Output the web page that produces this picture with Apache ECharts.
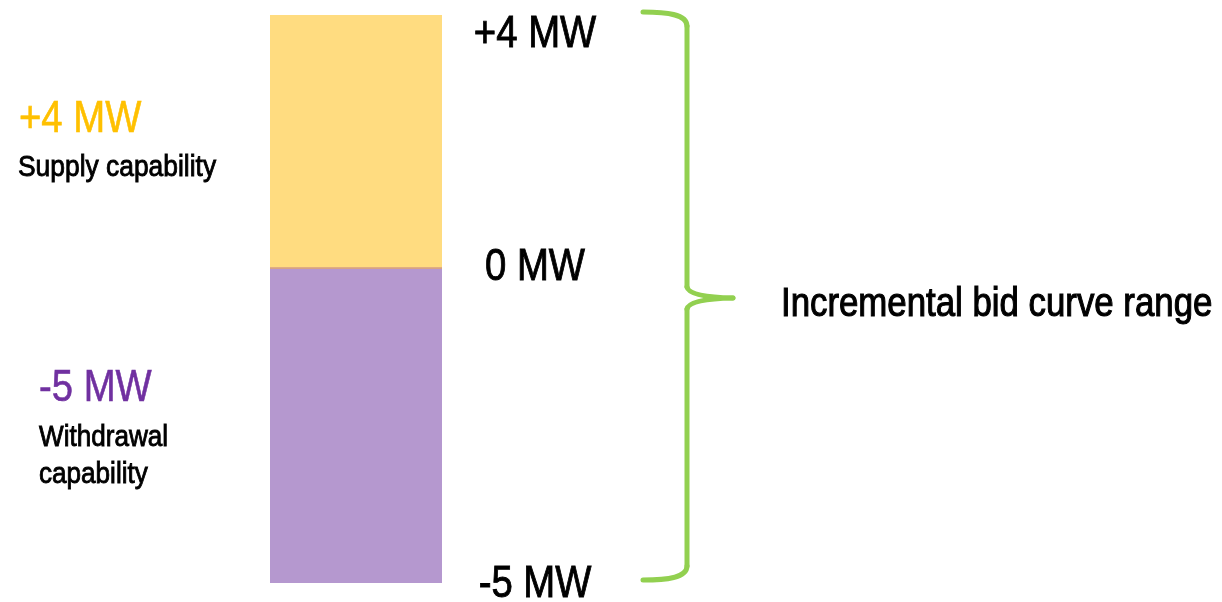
<!DOCTYPE html>
<html>
<head>
<meta charset="utf-8">
<script src="https://cdn.jsdelivr.net/npm/echarts@6/dist/echarts.min.js"></script>
<style>
  html, body { margin: 0; padding: 0; background: #ffffff; }
  #chart { width: 1222px; height: 602px; }
</style>
</head>
<body>
<div id="chart"></div>
<script>
// Capability bar: supply above zero, withdrawal below it (MW)
const categories = ['Capability'];
const supply = [4];
const withdrawal = [-5];
const tickValues = [4, 0, -5];

const FONT = '"Liberation Sans", Arial, sans-serif';
const fmtMW = v => (v > 0 ? '+' : '') + v + ' MW';

const chart = echarts.init(document.getElementById('chart'), null, { renderer: 'canvas' });

chart.setOption({
  animation: false,
  backgroundColor: '#ffffff',
  grid: { left: 270, width: 172, top: 15, bottom: 19 },
  xAxis: { type: 'category', data: categories, show: false },
  yAxis: { type: 'value', min: -5, max: 4, show: false },
  series: [
    {
      name: 'Supply capability',
      type: 'bar',
      stack: 'range',
      barWidth: '100%',
      data: supply,
      itemStyle: { color: '#ffdc80' },
      markLine: {
        silent: true,
        symbol: 'none',
        label: { show: false },
        lineStyle: { color: '#e0a66c', width: 1.5, type: 'solid' },
        data: [{ yAxis: 0 }]
      }
    },
    {
      name: 'Withdrawal capability',
      type: 'bar',
      stack: 'range',
      barWidth: '100%',
      data: withdrawal,
      itemStyle: { color: '#b598cf' }
    }
  ]
});

// Pixel positions of the range ends, used for the labels and the brace
const yPix = tickValues.map(v => chart.convertToPixel({ yAxisIndex: 0 }, v));
const yTop = yPix[0], yZero = yPix[1], yBot = yPix[2];

// condensed, slightly heavier text: horizontal squeeze around the anchor point
const txt = (x, y, text, size, color, align, sx, weight) => ({
  type: 'text',
  x: x, y: y,
  scaleX: sx,
  style: {
    text: text,
    font: size + 'px ' + FONT,
    fill: color,
    stroke: color,
    lineWidth: weight,
    align: align || 'left',
    verticalAlign: 'middle'
  }
});

// curly brace spanning the whole range
const tT = yTop - 3, tB = yBot - 3, tM = (tT + tB) / 2 + 2;
const bx = 687, armX = 643, tipX = 733;
const braceStyle = { stroke: '#92d050', lineWidth: 5, lineCap: 'round', fill: null };
const brace = [
  { type: 'bezierCurve', shape: { x1: armX, y1: tT, cpx1: 666, cpy1: tT, cpx2: bx, cpy2: tT + 2, x2: bx, y2: tT + 14 } },
  { type: 'line', shape: { x1: bx, y1: tT + 14, x2: bx, y2: tM - 11 } },
  { type: 'bezierCurve', shape: { x1: bx, y1: tM - 11, cpx1: bx + 2, cpy1: tM - 1, x2: tipX, y2: tM } },
  { type: 'bezierCurve', shape: { x1: tipX, y1: tM, cpx1: bx + 2, cpy1: tM + 1, x2: bx, y2: tM + 11 } },
  { type: 'line', shape: { x1: bx, y1: tM + 11, x2: bx, y2: tB - 14 } },
  { type: 'bezierCurve', shape: { x1: bx, y1: tB - 14, cpx1: bx, cpy1: tB - 2, cpx2: 666, cpy2: tB, x2: armX, y2: tB } }
].map(el => Object.assign(el, { style: braceStyle }));

chart.setOption({
  graphic: [
    // value labels at the ends and at zero
    txt(535, yTop + 20, fmtMW(tickValues[0]), 44, '#000000', 'center', 0.87, 0.9),
    txt(535, yZero, fmtMW(tickValues[1]), 44, '#000000', 'center', 0.87, 0.9),
    txt(535, yBot + 2, fmtMW(tickValues[2]), 44, '#000000', 'center', 0.87, 0.9),
    // capability descriptions
    txt(19, 120, fmtMW(supply[0]), 44, '#ffc000', 'left', 0.87, 0.6),
    txt(18, 168, 'Supply capability', 30, '#000000', 'left', 0.88, 0.9),
    txt(39, 389, fmtMW(withdrawal[0]), 44, '#7030a0', 'left', 0.87, 0.6),
    txt(39, 438, 'Withdrawal', 30, '#000000', 'left', 0.87, 0.9),
    txt(39, 475, 'capability', 30, '#000000', 'left', 0.87, 0.9),
    txt(781, 305, 'Incremental bid curve range', 40, '#000000', 'left', 0.87, 1.1)
  ].concat(brace)
});
</script>
</body>
</html>
